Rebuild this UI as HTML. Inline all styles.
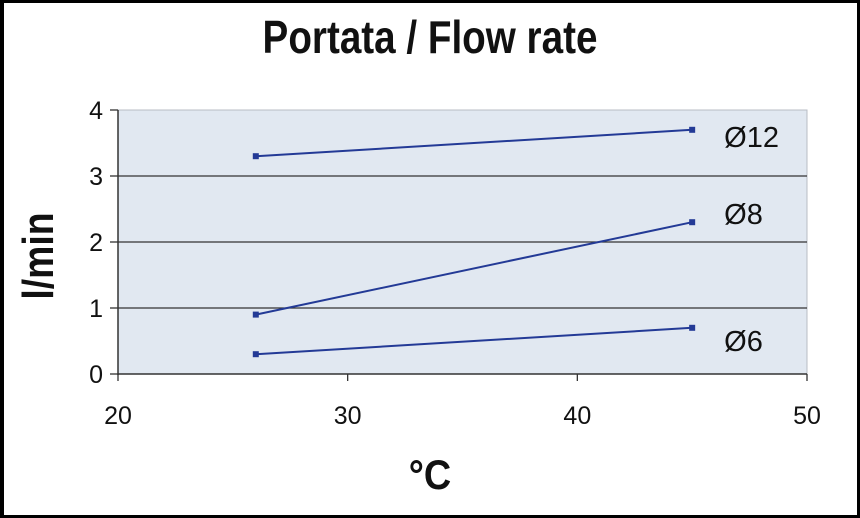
<!DOCTYPE html>
<html><head><meta charset="utf-8"><style>
body{margin:0;background:#fff}
#frame{position:absolute;left:0;top:0;width:860px;height:518px;box-sizing:border-box;border:3px solid #000;border-left-width:4px;background:#fff}
svg{position:absolute;left:0;top:0}
text{font-family:"Liberation Sans",sans-serif;fill:#111}
</style></head><body>
<div id="frame"></div>
<svg id="c" width="860" height="518"></svg>
<script>
const xTicks=[20,30,40,50];
const yTicks=[0,1,2,3,4];
const temps=[26,45];
const seriesNames=["Ø12","Ø8","Ø6"];
const s12=[3.3,3.7];
const s8=[0.9,2.3];
const s6=[0.3,0.7];
const allSeries=[s12,s8,s6];
const L=118,R=807,T=110,B=374;
const xs=v=>L+(v-20)/30*(R-L);
const ys=v=>B-v/4*(B-T);
const svg=document.getElementById('c');
const NS='http://www.w3.org/2000/svg';
function mk(t,a,p){const e=document.createElementNS(NS,t);for(const k in a)e.setAttribute(k,a[k]);(p||svg).appendChild(e);return e;}
let bg=mk('rect',{x:L,y:T,width:R-L,height:B-T,fill:'#e1e8f1',stroke:'#b8bcc4','stroke-width':1});


yTicks.forEach(v=>{
  if(v>0&&v<4){let g=mk('line',{x1:L,x2:R,y1:ys(v),y2:ys(v),stroke:'#333','stroke-width':1.3});
  
  }
  let tk=mk('line',{x1:L-8,x2:L,y1:ys(v),y2:ys(v),stroke:'#333','stroke-width':1.3});
  
  
  let t=mk('text',{x:L-15,y:ys(v)+9,'text-anchor':'end','font-size':25});t.textContent=v;
  
  
});
xTicks.forEach(v=>{
  let tk=mk('line',{x1:xs(v),x2:xs(v),y1:B,y2:B+7,stroke:'#333','stroke-width':1.3});
  
  
  let t=mk('text',{x:xs(v),y:B+50,'text-anchor':'middle','font-size':25});t.textContent=v;
  
  
});
let ax=mk('line',{x1:L,x2:L,y1:T,y2:B+1,stroke:'#333','stroke-width':1.5});

let bx=mk('line',{x1:L,x2:R,y1:B,y2:B,stroke:'#333','stroke-width':1.5});

allSeries.forEach((s,i)=>{
  const pts=temps.map((t,j)=>xs(t)+','+ys(s[j])).join(' ');
  let pl=mk('polyline',{points:pts,fill:'none',stroke:'#233a96','stroke-width':2});
  
  
  temps.forEach((t,j)=>{
    let m=mk('rect',{x:xs(t)-3,y:ys(s[j])-3,width:6,height:6,fill:'#233a96'});
    
    
  });
  let lb=mk('text',{x:xs(temps[1])+32,y:ys(s[1])+(i==0?17:i==1?2:23),'font-size':29});
  lb.textContent=seriesNames[i];
  
  
});
let ti=mk('text',{x:430,y:53,'text-anchor':'middle','font-size':46,'font-weight':'bold',transform:'translate(430,0) scale(0.84,1) translate(-430,0)'});
ti.textContent='Portata / Flow rate';

let xt=mk('text',{x:430,y:489,'text-anchor':'middle','font-size':42,'font-weight':'bold',transform:'translate(430,0) scale(0.9,1) translate(-430,0)'});
xt.textContent='°C';

let yt=mk('text',{x:0,y:0,'text-anchor':'middle','font-size':44,'font-weight':'bold',transform:'translate(53,256) rotate(-90) scale(0.85,1)'});
yt.textContent='l/min';

</script>
</body></html>
